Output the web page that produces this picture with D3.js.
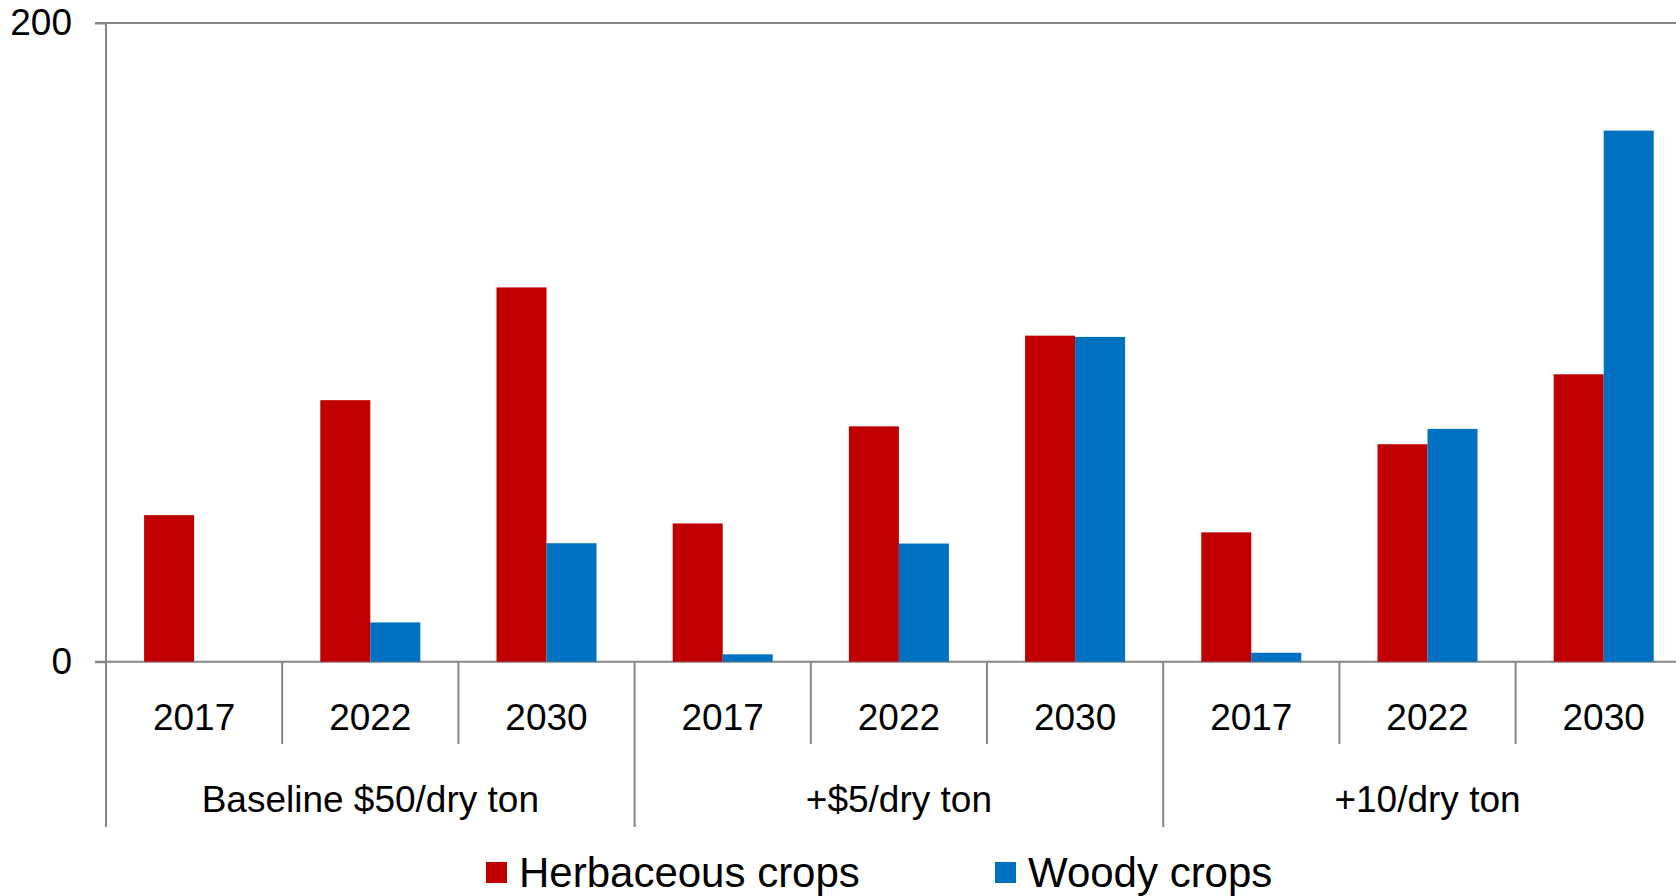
<!DOCTYPE html>
<html>
<head>
<meta charset="utf-8">
<script src="https://cdn.jsdelivr.net/npm/d3@7"></script>
<style>
  html, body { margin: 0; padding: 0; background: #fff; overflow: hidden; }
  svg { display: block; font-family: "Liberation Sans", Arial, sans-serif; }
</style>
</head>
<body>
<svg id="chart" width="1676" height="896"></svg>
<script>
// Price scenarios and years shown under each scenario
const groups = ["Baseline $50/dry ton", "+$5/dry ton", "+10/dry ton"];
const years = ["2017", "2022", "2030"];

// Series values, one per scenario/year, in the order above
const herbaceous = [45.9, 81.9, 117.2, 43.3, 73.7, 102.1, 40.5, 68.1, 90.0];
const woody = [0, 12.3, 37.1, 2.3, 37.0, 101.7, 2.8, 72.9, 166.3];

const seriesNames = ["Herbaceous crops", "Woody crops"];
const seriesColors = ["#C00000", "#0070C0"];
const yTicks = [0, 200];

const svg = d3.select("#chart");
const W = 1676;
const plotLeft = 106, plotTop = 23, plotBottom = 661.7;
const catStep = 176.2;

const categories = [];
groups.forEach(g => years.forEach(y => categories.push({ group: g, year: y, key: g + "|" + y })));

const x0 = d3.scaleBand()
  .domain(categories.map(c => c.key))
  .range([plotLeft, plotLeft + catStep * categories.length])
  .padding(0);

const x1 = d3.scaleBand()
  .domain(seriesNames)
  .range([0, x0.bandwidth()])
  .paddingInner(0)
  .paddingOuter(0.762);

const y = d3.scaleLinear().domain([0, 200]).range([plotBottom, plotTop]);

const axisColor = "#868686";

// Horizontal lines at 0 and 200
svg.append("g").selectAll("line")
  .data(yTicks)
  .join("line")
  .attr("x1", plotLeft - 11).attr("x2", W)
  .attr("y1", d => y(d)).attr("y2", d => y(d))
  .attr("stroke", axisColor).attr("stroke-width", 2);

// Value axis with its labels
const yAxis = svg.append("g")
  .attr("transform", `translate(${plotLeft},0)`)
  .call(d3.axisLeft(y).tickValues(yTicks).tickSize(11).tickPadding(23).tickFormat(d3.format("d")));
yAxis.select(".domain").remove();
yAxis.selectAll(".tick line").attr("stroke", axisColor).attr("stroke-width", 2);
yAxis.selectAll(".tick text")
  .attr("fill", "#000")
  .style("font-size", "37px")
  .style("font-family", "'Liberation Sans', Arial, sans-serif");

// Bars
const data = categories.map((c, i) => ({ key: c.key, values: [herbaceous[i], woody[i]] }));
const catG = svg.append("g").selectAll("g")
  .data(data)
  .join("g")
  .attr("transform", d => `translate(${x0(d.key)},0)`);

catG.selectAll("rect")
  .data(d => d.values.map((v, j) => ({ name: seriesNames[j], value: v, color: seriesColors[j] })))
  .join("rect")
  .attr("x", d => x1(d.name))
  .attr("width", x1.bandwidth())
  .attr("y", d => y(d.value))
  .attr("height", d => y(0) - y(d.value))
  .attr("fill", d => d.color);

// Vertical axis line, running down through the category labels
const yearBottom = 744, groupBottom = 827;
svg.append("line")
  .attr("x1", plotLeft).attr("x2", plotLeft)
  .attr("y1", plotTop).attr("y2", groupBottom)
  .attr("stroke", axisColor).attr("stroke-width", 2);

// Dividers between years and between scenarios
const boundaries = d3.range(1, categories.length + 1);
svg.append("g").selectAll("line")
  .data(boundaries)
  .join("line")
  .attr("x1", i => plotLeft + catStep * i)
  .attr("x2", i => plotLeft + catStep * i)
  .attr("y1", plotBottom)
  .attr("y2", i => (i % years.length === 0 ? groupBottom : yearBottom))
  .attr("stroke", axisColor).attr("stroke-width", 2);

// Year labels
svg.append("g").selectAll("text")
  .data(categories)
  .join("text")
  .attr("x", d => x0(d.key) + x0.bandwidth() / 2)
  .attr("y", 730)
  .attr("text-anchor", "middle")
  .style("font-size", "37px")
  .text(d => d.year);

// Scenario labels
svg.append("g").selectAll("text")
  .data(groups)
  .join("text")
  .attr("x", (g, i) => plotLeft + catStep * years.length * (i + 0.5))
  .attr("y", 812)
  .attr("text-anchor", "middle")
  .style("font-size", "37px")
  .text(d => d);

// Legend
const legendX = [486, 995];
const legend = svg.append("g").selectAll("g")
  .data(seriesNames)
  .join("g")
  .attr("transform", (d, i) => `translate(${legendX[i]},0)`);
legend.append("rect")
  .attr("x", 0).attr("y", 862)
  .attr("width", 21).attr("height", 21)
  .attr("fill", (d, i) => seriesColors[i]);
legend.append("text")
  .attr("x", 33).attr("y", 887)
  .style("font-size", "42px")
  .text(d => d);
</script>
</body>
</html>
